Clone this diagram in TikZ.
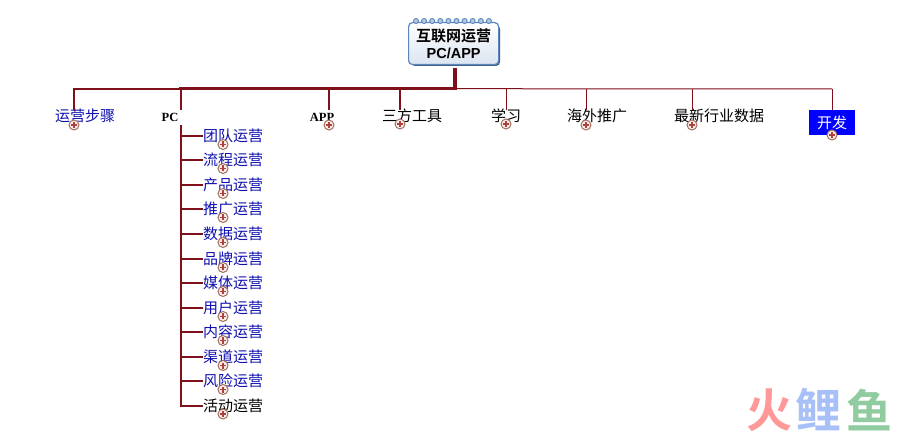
\documentclass[tikz,border=0pt]{standalone}
\usepackage{fontspec}
\setmainfont{Liberation Serif}
\newfontfamily\cjk{Noto Sans CJK SC}
\newfontfamily\cjkb{Noto Sans CJK SC Bold}
\newfontfamily\arialf{Liberation Sans}
\usetikzlibrary{calc}
\definecolor{bar}{HTML}{7F0F1A}
\definecolor{linkblue}{HTML}{1010B0}
\definecolor{rootedge}{HTML}{5B86BE}
\definecolor{plusred}{HTML}{B04040}
\definecolor{plusring}{HTML}{A07060}
\definecolor{plusfill}{HTML}{FBEDE8}
\definecolor{logored}{HTML}{FF9999}
\definecolor{logoblue}{HTML}{A8C0F8}
\definecolor{logogreen}{HTML}{90CCA0}
\tikzset{
  x=1pt,y=-1pt,
  label/.style={inner sep=0pt,font=\cjk\fontsize{15}{15}\selectfont},
  latin/.style={inner sep=0pt,font=\bfseries\fontsize{12.5}{15}\selectfont},
  linked/.style={text=linkblue},
  plusmark/.style={circle,draw=plusring,fill=plusfill,line width=1pt,minimum size=10pt,inner sep=0pt,
    path picture={\draw[plusred,line width=1.1pt]
      ([xshift=-3pt]path picture bounding box.center)--([xshift=3pt]path picture bounding box.center)
      ([yshift=-3pt]path picture bounding box.center)--([yshift=3pt]path picture bounding box.center);}},
  ring/.style={circle,draw=rootedge,fill=rootedge!45,line width=.9pt,minimum size=5pt,inner sep=0pt},
  thinbar/.style={draw=bar,line width=1pt},
  midbar/.style={draw=bar,line width=2.2pt,line cap=rect},
  heavybar/.style={draw=bar,line width=3.4pt,line cap=rect},
  logo/.style={inner sep=0pt,font=\cjkb\fontsize{46}{46}\selectfont},
}
\begin{document}
\begin{tikzpicture}
\useasboundingbox (0,0) rectangle (915,435);
\fill[white] (0,0) rectangle (915,435);
% root
\fill[rootedge!70!black,rounded corners=4pt] (411,25) rectangle (500,66);
\node[draw=rootedge,line width=1.2pt,rounded corners=4pt,top color=white,bottom color=rootedge!22,
  minimum width=90pt,minimum height=42pt,inner sep=0pt,align=center,anchor=north west,
  font=\fontsize{15}{17.5}\selectfont] (root) at (408,22)
  {{\cjkb 互联网运营}\\{\arialf\bfseries\fontsize{14.5}{17.5}\selectfont PC/APP}};
\foreach \i in {0,...,9} \node[ring] (r\i) at (416+\i*8.1,21) {};
% bus coordinates
\coordinate (top) at (455,70);
\coordinate (bj) at (455,88.7);
\foreach \n/\x in {a/74,b/181,c/329,d/400,e/506,f/586,g/692,h/832} \coordinate (j\n) at (\x,89);
% top-level nodes
\node[label,linked] (na) at (85,116) {运营步骤};
\node[latin,fill=white,minimum width=18pt,minimum height=15pt] (nb) at (170,117.5) {PC};
\node[latin] (nc) at (322,117.5) {APP};
\node[label] (nd) at (412,116) {三方工具};
\node[label] (ne) at (506,116) {学习};
\node[label] (nf) at (597,116) {海外推广};
\node[label] (ng) at (719,116) {最新行业数据};
\node[label,fill=blue,text=white,minimum width=46pt,minimum height=25pt,anchor=north west] (nh) at (809,110) {开发};
% bus
\draw[thinbar] (bj)--(jh);
\draw[heavybar] (top)--(bj)--(jb|-bj);
\draw[midbar] (jb)--(ja);
% drops
\coordinate (da) at (74,109);
\coordinate (db) at (181,109);
\coordinate (dc) at (329,109);
\coordinate (dd) at (400,109);
\coordinate (de) at (506,110);
\coordinate (df) at (586,110);
\coordinate (dg) at (692,110);
\draw[midbar] (ja)--(da);
\draw[midbar] (jb)--(db);
\draw[midbar] (jc)--(dc);
\draw[midbar] (jd)--(dd);
\draw[thinbar] (je)--(de);
\draw[thinbar] (jf)--(df);
\draw[thinbar] (jg)--(dg);
\draw[thinbar] (jh)--(jh|-nh.north);
% children
\coordinate (s0) at (181,126);
\coordinate (s12) at (181,406);
\draw[midbar] (s0)--(s12);
\foreach \i/\y/\t in {1/136/团队运营,2/160/流程运营,3/185/产品运营,4/209/推广运营,5/234/数据运营,6/259/品牌运营,7/283/媒体运营,8/308/用户运营,9/332/内容运营,10/357/渠道运营,11/381/风险运营}{
  \node[label,linked] (k\i) at (233,\y) {\t};
  \coordinate (t\i) at (181,\y);
  \draw[midbar,line cap=butt] (t\i)--(k\i.west);
  \node[plusmark] at (223,\y+8.5) {};
}
\node[label] (k12) at (233,406) {活动运营};
\draw[midbar,line cap=butt] (s12)--(k12.west);
\node[plusmark] at (223,414) {};
% plus markers of top level
\foreach \x/\y in {74/125,329/125,400/124,506/124,586/125,692/125,832/135} \node[plusmark] at (\x,\y) {};
% watermark
\node[logo,text=logored] (w1) at (769,410) {火};
\node[logo,text=logoblue] (w2) at (818,410) {鲤};
\node[logo,text=logogreen] (w3) at (869,410) {鱼};
\end{tikzpicture}
\end{document}
